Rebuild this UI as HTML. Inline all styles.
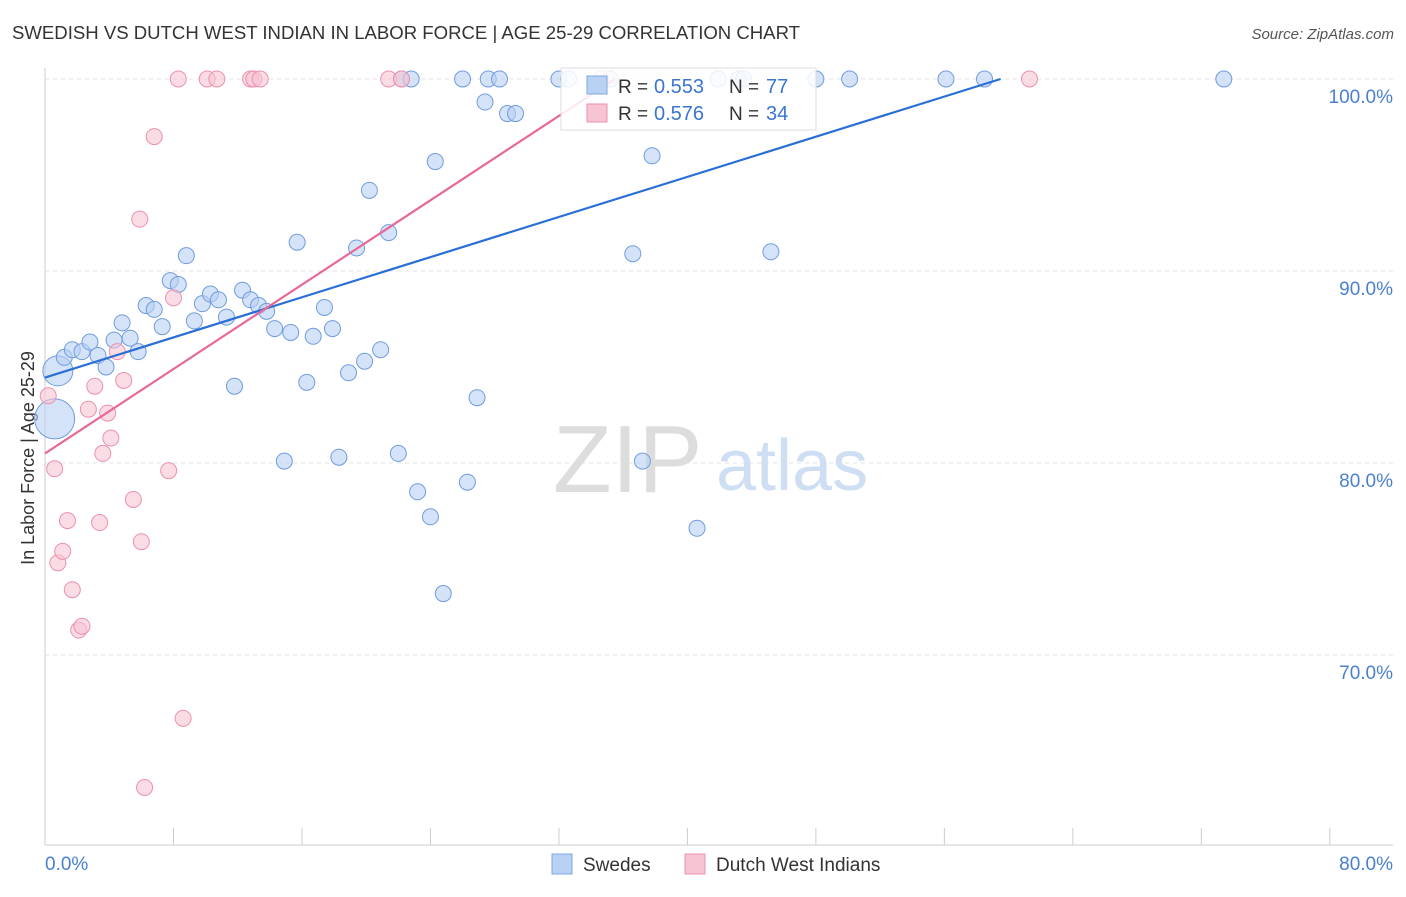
<!DOCTYPE html>
<html><head><meta charset="utf-8">
<style>
body{margin:0;background:#fff;font-family:"Liberation Sans",sans-serif;}
svg text{font-family:"Liberation Sans",sans-serif;}
</style></head>
<body>
<svg id="chart" width="1406" height="892" viewBox="0 0 1406 892" xmlns="http://www.w3.org/2000/svg">
<text x="12" y="39" font-size="18" fill="#333" textLength="788" lengthAdjust="spacingAndGlyphs">SWEDISH VS DUTCH WEST INDIAN IN LABOR FORCE | AGE 25-29 CORRELATION CHART</text>
<text x="1394" y="39" font-size="15" fill="#555" font-style="italic" text-anchor="end">Source: ZipAtlas.com</text>
<text transform="translate(34,458) rotate(-90)" font-size="18" fill="#333" text-anchor="middle">In Labor Force | Age 25-29</text>
<g id="grid"></g>
<g id="axes"></g>
<g>
<text x="553" y="492" font-size="96" fill="#ddd" font-family="Liberation Serif">ZIP</text>
<text x="716" y="490" font-size="72" fill="#cfdff3">atlas</text>
</g>
<g id="points"></g>
<g id="trends"></g>
<g>
<rect x="561" y="68" width="255" height="62" fill="#fff" fill-opacity="0.85" stroke="#ddd"/>
<rect x="587" y="76" width="20" height="18" fill="#b9d1f3" stroke="#7fa6e0"/>
<text x="618" y="93" font-size="19" fill="#333">R =</text>
<text x="654" y="93" font-size="20" fill="#3a75d0">0.553</text>
<text x="729" y="93" font-size="19" fill="#333">N =</text>
<text x="766" y="93" font-size="20" fill="#3a75d0">77</text>
<rect x="587" y="104" width="20" height="18" fill="#f7c4d4" stroke="#eb91ad"/>
<text x="618" y="120" font-size="19" fill="#333">R =</text>
<text x="654" y="120" font-size="20" fill="#3a75d0">0.576</text>
<text x="729" y="120" font-size="19" fill="#333">N =</text>
<text x="766" y="120" font-size="20" fill="#3a75d0">34</text>
</g>
<g>
<rect x="552" y="854" width="20" height="20" fill="#b9d1f3" stroke="#7fa6e0"/>
<text x="583" y="871" font-size="19" fill="#333">Swedes</text>
<rect x="685" y="854" width="20" height="20" fill="#f7c4d4" stroke="#eb91ad"/>
<text x="716" y="871" font-size="19" fill="#333">Dutch West Indians</text>
</g>
</svg>
<script>
const xTicks=[0,8,16,24,32,40,48,56,64,72,80];
const yTicks=[70,80,90,100];
const yTickLabels=["70.0%","80.0%","90.0%","100.0%"];
const swedesX=[0.6,0.8,1.2,1.7,2.3,2.8,3.3,3.8,4.3,4.8,5.3,5.8,6.3,6.8,7.3,7.8,8.3,8.8,9.3,9.8,10.3,10.8,11.3,11.8,12.3,12.8,13.3,13.8,14.3,14.9,15.3,15.7,16.3,16.7,17.4,17.9,18.3,18.9,19.4,19.9,20.2,20.9,21.4,22.0,22.2,22.8,23.2,24.0,24.3,24.8,26.0,26.3,26.9,27.4,27.6,28.3,28.8,29.3,32.0,32.6,35.2,36.6,37.2,37.8,40.6,41.9,43.2,43.5,45.2,48.0,50.1,56.1,58.5,73.4];
const swedesY=[82.3,84.8,85.5,85.9,85.8,86.3,85.6,85.0,86.4,87.3,86.5,85.8,88.2,88.0,87.1,89.5,89.3,90.8,87.4,88.3,88.8,88.5,87.6,84.0,89.0,88.5,88.2,87.9,87.0,80.1,86.8,91.5,84.2,86.6,88.1,87.0,80.3,84.7,91.2,85.3,94.2,85.9,92.0,80.5,100,100,78.5,77.2,95.7,73.2,100,79.0,83.4,98.8,100,100,98.2,98.2,100,100,100,90.9,80.1,96.0,76.6,100,100,100,91.0,100,100,100,100,100];
const swedesSize=[20,15];
const dutchX=[0.2,0.6,0.8,1.1,1.4,1.7,2.1,2.3,2.7,3.1,3.4,3.6,3.9,4.1,4.5,4.9,5.5,5.9,6.0,6.2,6.8,7.7,8.0,8.3,8.6,10.1,10.7,12.8,13.0,13.4,21.4,22.2,34.6,61.3];
const dutchY=[83.5,79.7,74.8,75.4,77.0,73.4,71.3,71.5,82.8,84.0,76.9,80.5,82.6,81.3,85.8,84.3,78.1,92.7,75.9,63.1,97.0,79.6,88.6,100,66.7,100,100,100,100,100,100,100,100,100];
const swedesTrend=[[0,84.45],[59.5,100]];
const dutchTrend=[[0,80.5],[35.5,100]];

const NS="http://www.w3.org/2000/svg";
const X=v=>45+v*16.06;
const Y=v=>79+(100-v)*19.2;
function mk(tag,attrs,parent){const e=document.createElementNS(NS,tag);for(const k in attrs)e.setAttribute(k,attrs[k]);parent.appendChild(e);return e;}
const grid=document.getElementById('grid'),axes=document.getElementById('axes'),pts=document.getElementById('points'),tr=document.getElementById('trends');
yTicks.forEach((t,i)=>{
 const l=mk('line',{x1:45,x2:1393,y1:Y(t),y2:Y(t),stroke:'#e3e3e3','stroke-dasharray':'4,4'},grid);
 
 
 const tx=mk('text',{x:1393,y:Y(t)+24,'font-size':19,fill:'#4a80d0','text-anchor':'end'},axes);
 tx.textContent=yTickLabels[i];
 
 
});
const ax=mk('line',{x1:45,x2:45,y1:68,y2:845,stroke:'#ccc'},axes);


const bx=mk('line',{x1:45,x2:1393,y1:845,y2:845,stroke:'#ccc'},axes);


xTicks.forEach(t=>{
 const l=mk('line',{x1:X(t),x2:X(t),y1:828,y2:845,stroke:'#ccc'},axes);
 
 
});
[[0,"0.0%",'start',45],[80,"80.0%",'end',1393]].forEach(d=>{
 const tx=mk('text',{x:d[3],y:870,'font-size':19,fill:'#4a80d0','text-anchor':d[2]},axes);
 tx.textContent=d[1];
 
 
});
swedesX.forEach((x,i)=>{
 const c=mk('circle',{cx:X(x),cy:Y(swedesY[i]),r:swedesSize[i]||8,fill:'#b9d1f3','fill-opacity':0.6,stroke:'#6f9ce0','stroke-width':1},pts);
 
 
});
dutchX.forEach((x,i)=>{
 const c=mk('circle',{cx:X(x),cy:Y(dutchY[i]),r:8,fill:'#f7c4d4','fill-opacity':0.6,stroke:'#eb91ad','stroke-width':1},pts);
 
 
});
const t1=mk('line',{x1:X(swedesTrend[0][0]),y1:Y(swedesTrend[0][1]),x2:X(swedesTrend[1][0]),y2:Y(swedesTrend[1][1]),stroke:'#2a6fd6','stroke-width':2.2},tr);


const t2=mk('line',{x1:X(dutchTrend[0][0]),y1:Y(dutchTrend[0][1]),x2:X(dutchTrend[1][0]),y2:Y(dutchTrend[1][1]),stroke:'#e8689a','stroke-width':2.2},tr);


</script>
</body></html>
